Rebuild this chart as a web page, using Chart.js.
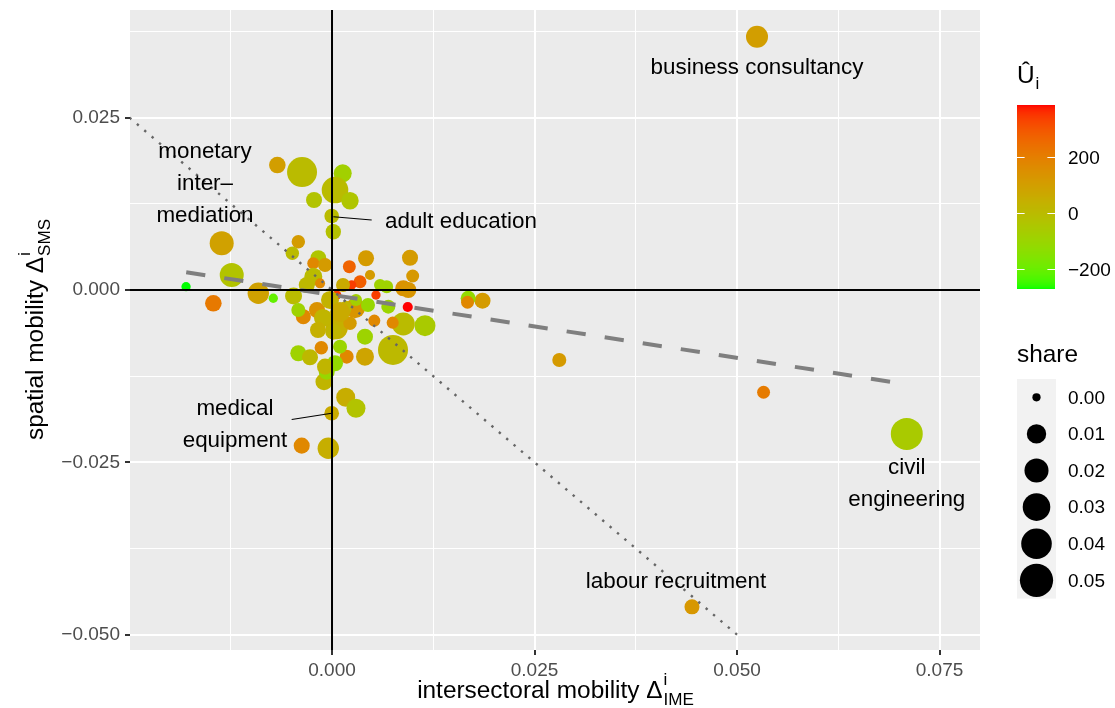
<!DOCTYPE html>
<html><head><meta charset="utf-8">
<script src="https://cdn.jsdelivr.net/npm/chart.js@4.4.1/dist/chart.umd.min.js"></script>
<style>html,body{margin:0;padding:0;background:#fff;}#wrap{width:1115px;height:708px;}</style>
</head><body><div id="wrap"><canvas id="c" width="1115" height="708"></canvas></div>
<script>
// ---------- data ----------
const sectorX = [0.05247,0.07096,0.04444,0.05328,0.02806,0.01858,0.01681,0.01673,0.01148,0.00935,
 0.0088,0.00753,0.00963,0.00996,0.0088,0.00942,0.00675,0.00695,0.00749,0.00522,
 0.00407,0.00407,0.00169,0.00296,-0.00004,-0.00046,-0.00374,-0.00099,-0.00065,-0.00354,
 -0.00416,-0.00272,-0.00132,0.00181,0.00058,0.00222,0.00284,0.00173,0.00016,0.00099,
 0.00037,-0.00086,-0.00416,-0.0049,-0.00169,-0.00231,-0.00086,0.0042,0.00214,0.00346,
 0.00243,0.00469,0.00593,-0.00231,-0.00312,-0.00148,0.00058,0.00543,-0.00475,-0.00725,
 0.0016,-0.0037,-0.00675,0.00132,0.00037,0.00222,-0.00222,-0.00004,0.00016,-0.01362,
 -0.01238,-0.01802,-0.01465,-0.0091,-0.00416,-0.00185,-0.00025,0.00099,-0.00111,0.00296,
 -0.00173,0.00444,0.00136];
const sectorY = [0.03673,-0.02088,-0.04597,-0.01483,-0.01015,-0.00155,-0.0012,-0.00178,-0.00518,-0.00247,
 -0.00493,-0.0087,0.00468,0.00203,0.00025,0.0,0.00048,-0.00242,-0.00474,-0.00445,
 -0.00677,-0.00967,-0.01556,-0.01715,-0.01788,-0.02296,-0.02258,-0.0133,-0.01185,-0.00387,
 -0.00918,-0.00976,-0.00837,-0.00967,-0.00555,-0.00483,-0.00265,-0.00242,-0.00605,-0.00822,
 -0.01063,-0.01112,0.007,0.00532,0.0046,0.00387,0.00363,0.0046,0.00338,0.0012,
 0.00073,0.00218,0.00073,0.00193,0.00073,0.00097,-0.00073,-0.00073,-0.00087,-0.0012,
 -0.0029,0.01711,0.01813,0.01692,0.0145,0.01295,0.01305,0.01073,0.00845,0.00677,
 0.00218,0.00048,-0.00193,-0.00048,-0.0029,-0.0029,-0.00145,-0.00319,-0.00406,-0.00145,
 -0.0058,-0.00218,0.00073];
const sectorShare = [0.0152,0.045,0.0037,0.0018,0.0027,0.0049,0.0037,0.0018,0.013,0.0003,
 0.0175,0.0379,0.0049,0.0018,0.0049,0.0049,0.0018,0.0027,0.0012,0.0012,
 0.0049,0.0077,0.0093,0.0093,0.0033,0.0139,0.0049,0.0062,0.0049,0.0037,
 0.0049,0.0049,0.0022,0.0027,0.0152,0.0022,0.0111,0.0012,0.0049,0.0027,
 0.0049,0.0049,0.0022,0.0022,0.0049,0.0012,0.0027,0.0049,0.0018,0.0018,
 0.0001,0.0003,0.0012,0.0077,0.0049,0.0003,0.0001,0.0001,0.0062,0.0001,
 0.0012,0.0379,0.0056,0.0077,0.027,0.0068,0.0049,0.0033,0.0041,0.0199,
 0.0199,0.0001,0.0056,0.0139,0.0027,0.0049,0.0077,0.0111,0.0077,0.0012,
 0.0049,0.0027,0.0027];
const sectorU = [100,-60,125,210,115,110,-120,175,-60,386,
 0,5,110,120,140,130,-90,-100,170,170,
 -95,80,50,-30,60,45,170,20,-110,170,
 -90,10,170,170,40,110,130,20,20,-100,
 -120,20,110,0,-40,170,110,110,270,280,
 340,110,-90,0,10,170,340,340,0,-210,
 10,0,100,-80,0,-40,-30,0,-25,90,
 -30,-273,215,90,-90,140,30,60,20,-80,
 40,-110,60];
const xMajorTicks = [0, 0.025, 0.05, 0.075];
const xMinorTicks = [-0.0125, 0.0125, 0.0375, 0.0625];
const yMajorTicks = [-0.05, -0.025, 0, 0.025];
const yMinorTicks = [-0.0375, -0.0125, 0.0125, 0.0375];
const fitX = [-0.0180, 0.0709];
const fitY = [0.00258, -0.01367];
const diagX = [-0.025, 0.05];
const diagY = [0.025, -0.05];
const zeroSpanX = [-0.03, 0.09];
const zeroSpanY = [-0.06, 0.05];
const shareBreaks = [0, 0.01, 0.02, 0.03, 0.04, 0.05];
const uBreaks = [-200, 0, 200];
const labelTexts = [['business consultancy'],['monetary','inter–','mediation'],['adult education'],['medical','equipment'],['civil','engineering'],['labour recruitment']];
const labelX = [0.05247, -0.01568, 0.00654, -0.01198, 0.07096, 0.04247];
const labelY = [0.03248, 0.01566, 0.01015, -0.01933, -0.02784, -0.04205];
const labelAlign = ['center','center','left','center','center','center'];
const leaderFrom = [[0.00016, 0.01063], [-0.00004, -0.01788]];
const leaderTo = [[0.0049, 0.01015], [-0.00498, -0.0188]];

// ---------- helpers ----------
const FONT = '"Liberation Sans", Arial, Helvetica, sans-serif';
const FS = 22.4, TITLE = 24.4, TFS = 19;
function srgbToLin(c){c/=255;return c<=0.04045?c/12.92:Math.pow((c+0.055)/1.055,2.4);}
function linToSrgb(c){c=c<=0.0031308?12.92*c:1.055*Math.pow(Math.max(c,0),1/2.4)-0.055;return Math.round(Math.max(0,Math.min(1,c))*255);}
const WH=[0.95047,1,1.08883];
function rgbToLab(r,g,b){const R=srgbToLin(r),G=srgbToLin(g),B=srgbToLin(b);
 const X=0.4124564*R+0.3575761*G+0.1804375*B,Y=0.2126729*R+0.7151522*G+0.0721750*B,Z=0.0193339*R+0.1191920*G+0.9503041*B;
 const f=t=>t>216/24389?Math.cbrt(t):(24389/27*t+16)/116;
 const fx=f(X/WH[0]),fy=f(Y/WH[1]),fz=f(Z/WH[2]);return [116*fy-16,500*(fx-fy),200*(fy-fz)];}
function labToRgb(L,a,b){const fy=(L+16)/116,fx=fy+a/500,fz=fy-b/200;
 const fi=t=>t*t*t>216/24389?t*t*t:(116*t-16)/(24389/27);
 const X=WH[0]*fi(fx),Y=WH[1]*fi(fy),Z=WH[2]*fi(fz);
 const R=3.2404542*X-1.5371385*Y-0.4985314*Z,G=-0.9692660*X+1.8760108*Y+0.0415560*Z,B=0.0556434*X-0.2040259*Y+1.0572252*Z;
 return [linToSrgb(R),linToSrgb(G),linToSrgb(B)];}
const LOW = rgbToLab(0,255,0), HIGH = rgbToLab(255,0,0);
const uMin = Math.min(...sectorU), uMax = Math.max(...sectorU);
function colorOf(u){const t=Math.max(0,Math.min(1,(u-uMin)/(uMax-uMin)));
 const c=labToRgb(LOW[0]+(HIGH[0]-LOW[0])*t,LOW[1]+(HIGH[1]-LOW[1])*t,LOW[2]+(HIGH[2]-LOW[2])*t);
 return `rgb(${c[0]},${c[1]},${c[2]})`;}
function radiusOf(s){return 4.1+56*Math.sqrt(s);}
function isIn(arr,v){return arr.some(a=>Math.abs(a-v)<1e-9);}
function fmt(v,d){const s=Math.abs(v).toFixed(d);return (v<-1e-12?'−':'')+s;}

const bubbles = sectorX.map((x,i)=>({x:x,y:sectorY[i],r:radiusOf(sectorShare[i])}));

const bgPlugin = {id:'bg', beforeDraw(chart){const {ctx,chartArea:a}=chart;ctx.save();ctx.fillStyle='#fff';ctx.fillRect(0,0,chart.width,chart.height);
 ctx.fillStyle='#EBEBEB';ctx.fillRect(a.left,a.top,a.right-a.left,a.bottom-a.top);ctx.restore();}};

function drawRich(ctx, base, sup, sub, cx, cy, rot){
 ctx.save();ctx.translate(cx,cy);if(rot)ctx.rotate(-Math.PI/2);
 ctx.textAlign='left';ctx.textBaseline='alphabetic';ctx.fillStyle='#000';
 ctx.font=`${TITLE}px ${FONT}`;const w0=ctx.measureText(base).width;
 const sf=TITLE*0.7;ctx.font=`${sf}px ${FONT}`;const w1=ctx.measureText(sup).width,w2=ctx.measureText(sub).width;
 const x=-(w0+Math.max(w1,w2))/2;
 ctx.font=`${TITLE}px ${FONT}`;ctx.fillText(base,x,0);
 ctx.font=`${sf}px ${FONT}`;ctx.fillText(sup,x+w0+1,-TITLE*0.55);ctx.fillText(sub,x+w0+1,TITLE*0.3);
 ctx.restore();}

const annoPlugin = {id:'anno', afterDatasetsDraw(chart){
 const {ctx,scales:{x:xs,y:ys}}=chart;ctx.save();
 ctx.strokeStyle='#000';ctx.lineWidth=1.1;
 leaderFrom.forEach((p,i)=>{ctx.beginPath();ctx.moveTo(xs.getPixelForValue(p[0]),ys.getPixelForValue(p[1]));
  ctx.lineTo(xs.getPixelForValue(leaderTo[i][0]),ys.getPixelForValue(leaderTo[i][1]));ctx.stroke();});
 ctx.fillStyle='#000';ctx.font=`${FS}px ${FONT}`;ctx.textBaseline='alphabetic';
 const LH=32.3;
 labelTexts.forEach((lines,i)=>{const px=xs.getPixelForValue(labelX[i]),py=ys.getPixelForValue(labelY[i]);
  ctx.textAlign=labelAlign[i];
  lines.forEach((t,j)=>{ctx.fillText(t,px,py+(j-(lines.length-1)/2)*LH+FS*0.36);});});
 ctx.restore();},
 afterDraw(chart){const {ctx,chartArea:a}=chart;
  drawRich(ctx,'intersectoral mobility Δ','i','IME',(a.left+a.right)/2,698,false);
  drawRich(ctx,'spatial mobility Δ','i','SMS',43,(a.top+a.bottom)/2,true);
  // colour bar legend
  ctx.save();
  const bx=1017,bw=38,bt=105,bb=289;
  ctx.fillStyle='#000';ctx.font=`${TITLE}px ${FONT}`;ctx.textAlign='left';ctx.textBaseline='alphabetic';
  ctx.fillText('Û',1017,83);const uw=ctx.measureText('Û').width;
  ctx.font=`${TITLE*0.7}px ${FONT}`;ctx.fillText('i',1017+uw+1,89);
  for(let py=bt;py<bb;py++){const u=uMax-(py+0.5-bt)/(bb-bt)*(uMax-uMin);ctx.fillStyle=colorOf(u);ctx.fillRect(bx,py,bw,1);}
  ctx.strokeStyle='#fff';ctx.lineWidth=1;ctx.font=`${TFS}px ${FONT}`;ctx.fillStyle='#000';ctx.textBaseline='middle';
  uBreaks.forEach(b=>{const py=Math.round(bb-(b-uMin)/(uMax-uMin)*(bb-bt))+0.5;
   ctx.beginPath();ctx.moveTo(bx,py);ctx.lineTo(bx+bw*0.2,py);ctx.moveTo(bx+bw*0.8,py);ctx.lineTo(bx+bw,py);ctx.stroke();
   ctx.fillText(fmt(b,0),1068,py+1);});
  // size legend
  ctx.font=`${TITLE}px ${FONT}`;ctx.textBaseline='alphabetic';ctx.fillText('share',1017,362);
  const kt=379,kh=36.6;ctx.fillStyle='#F2F2F2';ctx.fillRect(1017,kt,39,kh*shareBreaks.length);
  shareBreaks.forEach((s,i)=>{const cy=kt+kh*(i+0.5);ctx.fillStyle='#000';ctx.beginPath();ctx.arc(1036.5,cy,radiusOf(s),0,Math.PI*2);ctx.fill();
   ctx.font=`${TFS}px ${FONT}`;ctx.textBaseline='middle';ctx.fillText(fmt(s,2),1068,cy+1);});
  ctx.restore();}};

function gridOpts(major){return {
 color:'#FFFFFF',
 lineWidth:c=>(c.tick&&isIn(major,c.tick.value))?2:1,
 tickColor:c=>(c.tick&&isIn(major,c.tick.value))?'#333333':'rgba(0,0,0,0)',
 tickLength:5,drawTicks:true};}
function zeroPad(s){s.paddingLeft=0;s.paddingRight=0;s.paddingTop=0;s.paddingBottom=0;}

new Chart(document.getElementById('c'),{
 type:'bubble',
 data:{datasets:[
  {type:'line',data:zeroSpanX.map(x=>({x:x,y:0})),borderColor:'#000',borderWidth:2,pointRadius:0,order:0},
  {type:'line',data:zeroSpanY.map(y=>({x:0,y:y})),borderColor:'#000',borderWidth:2,pointRadius:0,order:0},
  {type:'line',data:fitX.map((x,i)=>({x:x,y:fitY[i]})),borderColor:'#7F7F7F',borderWidth:4,borderDash:[19.3,19.2],pointRadius:0,order:1},
  {type:'line',data:diagX.map((x,i)=>({x:x,y:diagY[i]})),borderColor:'#666666',borderWidth:2.4,borderDash:[2.4,7.3],pointRadius:0,order:1},
  {type:'bubble',data:bubbles,backgroundColor:sectorU.map(colorOf),borderWidth:0,hoverRadius:0,order:5}
 ]},
 options:{responsive:false,animation:false,devicePixelRatio:1,
  events:[],
  layout:{autoPadding:false,padding:{left:0,top:10,right:135,bottom:0}},
  plugins:{legend:{display:false},tooltip:{enabled:false}},
  scales:{
   x:{type:'linear',min:-0.02494,max:0.0800,
    afterBuildTicks:s=>{s.ticks=[...xMinorTicks,...xMajorTicks].sort((a,b)=>a-b).map(v=>({value:v}));},
    afterFit:s=>{s.height=58;zeroPad(s);},
    ticks:{autoSkip:false,maxRotation:0,padding:4,color:'#4D4D4D',font:{family:FONT,size:TFS},
     callback:v=>isIn(xMajorTicks,v)?fmt(v,3):''},
    grid:gridOpts(xMajorTicks),border:{display:false}},
   y:{type:'linear',min:-0.05223,max:0.04062,
    afterBuildTicks:s=>{s.ticks=[...yMinorTicks,...yMajorTicks].sort((a,b)=>a-b).map(v=>({value:v}));},
    afterFit:s=>{s.width=130;zeroPad(s);},
    ticks:{autoSkip:false,padding:5,color:'#4D4D4D',font:{family:FONT,size:TFS},
     callback:v=>isIn(yMajorTicks,v)?fmt(v,3):''},
    grid:gridOpts(yMajorTicks),border:{display:false}}
  }},
 plugins:[bgPlugin,annoPlugin]
});
</script></body></html>
